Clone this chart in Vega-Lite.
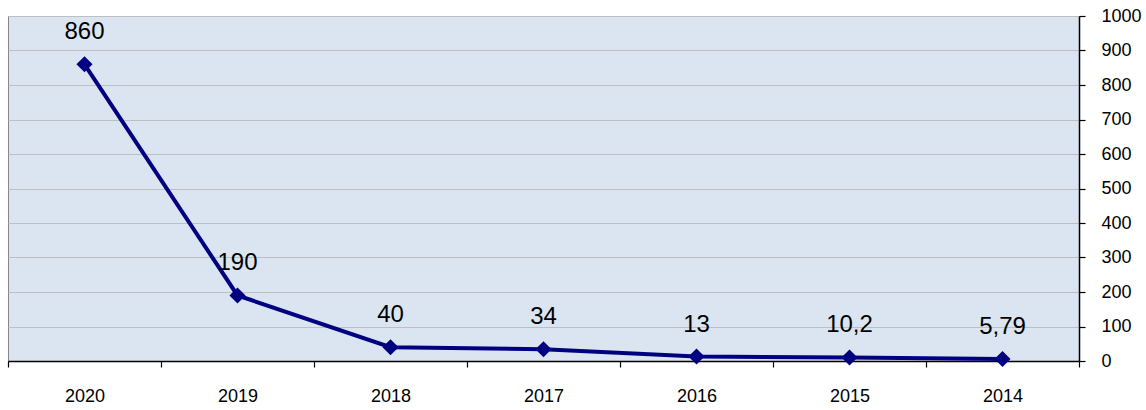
{
  "$schema": "https://vega.github.io/schema/vega-lite/v6.json",
  "width": 1071,
  "height": 345,
  "autosize": {"type": "none"},
  "padding": {"left": 8, "top": 16, "right": 67, "bottom": 49},
  "background": "white",
  "config": {
    "view": {"fill": "#DBE5F1", "stroke": "#868686", "strokeWidth": 1},
    "font": "Liberation Sans"
  },
  "data": {
    "values": [
      {"year": "2020", "value": 860, "label": "860"},
      {"year": "2019", "value": 190, "label": "190"},
      {"year": "2018", "value": 40, "label": "40"},
      {"year": "2017", "value": 34, "label": "34"},
      {"year": "2016", "value": 13, "label": "13"},
      {"year": "2015", "value": 10.2, "label": "10,2"},
      {"year": "2014", "value": 5.79, "label": "5,79"}
    ]
  },
  "encoding": {
    "x": {
      "field": "year",
      "type": "nominal",
      "sort": null,
      "scale": {"type": "band", "paddingInner": 0, "paddingOuter": 0},
      "axis": {
        "title": null,
        "labelAngle": 0,
        "labelFont": "Liberation Sans",
        "labelFontSize": 18,
        "labelColor": "#000000",
        "labelPadding": 20,
        "tickBand": "extent",
        "tickColor": "#000000",
        "tickSize": 6,
        "tickWidth": 1.2,
        "domainColor": "#000000",
        "domainWidth": 1.5,
        "grid": false
      }
    },
    "y": {
      "field": "value",
      "type": "quantitative",
      "scale": {"domain": [0, 1000], "nice": false},
      "axis": {
        "orient": "right",
        "title": null,
        "format": "d",
        "values": [0, 100, 200, 300, 400, 500, 600, 700, 800, 900, 1000],
        "labelFont": "Liberation Sans",
        "labelFontSize": 18,
        "labelColor": "#000000",
        "labelPadding": 16,
        "labelAlign": "left",
        "tickColor": "#000000",
        "tickSize": 6,
        "tickWidth": 1.2,
        "domainColor": "#000000",
        "domainWidth": 1.5,
        "grid": true,
        "gridColor": "#BFBFBF",
        "gridWidth": 1.2
      }
    }
  },
  "layer": [
    {
      "mark": {"type": "line", "color": "#000080", "strokeWidth": 4}
    },
    {
      "mark": {"type": "point", "shape": "diamond", "filled": true, "color": "#000080", "opacity": 1, "size": 260}
    },
    {
      "mark": {"type": "text", "fontSize": 24, "font": "Liberation Sans", "color": "#000000", "baseline": "alphabetic", "align": "center", "dy": -25},
      "encoding": {"text": {"field": "label", "type": "nominal"}}
    }
  ]
}
